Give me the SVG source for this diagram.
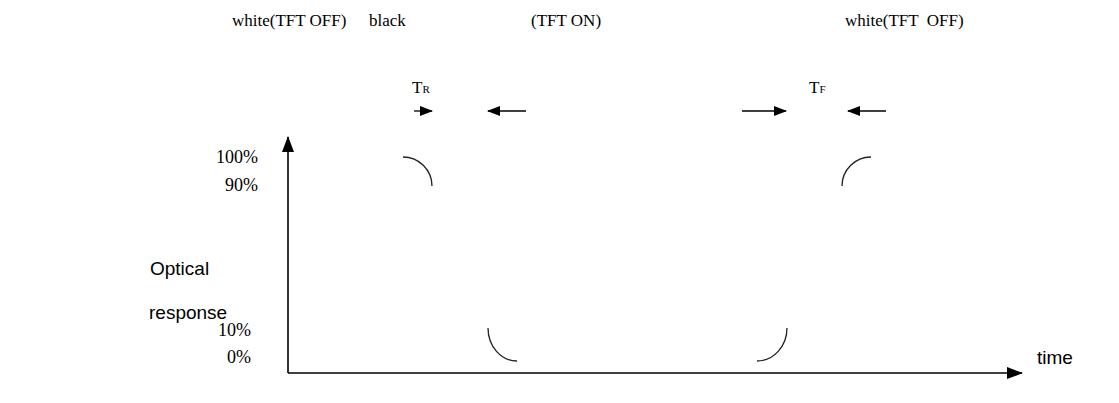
<svg xmlns="http://www.w3.org/2000/svg" width="1119" height="403" viewBox="0 0 1119 403">
  <style>
    .serif { font-family: "Liberation Serif", "Times New Roman", serif; font-size: 17px; fill: #000; }
    .pct { font-family: "Liberation Serif", "Times New Roman", serif; font-size: 18px; fill: #000; text-anchor: end; }
    .sans { font-family: "Liberation Sans", Arial, sans-serif; font-size: 19px; fill: #000; }
    .axis { stroke: #000; stroke-width: 1.6; fill: none; }
    .arr { stroke: #000; stroke-width: 1.3; fill: none; }
    .curve { stroke: #222; stroke-width: 1.3; fill: none; }
  </style>
  <defs>
    <marker id="head" markerWidth="13" markerHeight="10" refX="12" refY="5" orient="auto" markerUnits="userSpaceOnUse">
      <path d="M0,0 L13,5 L0,10 Z" fill="#000"/>
    </marker>
    <marker id="axisHead" markerWidth="16" markerHeight="12" refX="15" refY="6" orient="auto" markerUnits="userSpaceOnUse">
      <path d="M0,0 L16,6 L0,12 Z" fill="#000"/>
    </marker>
  </defs>

  <!-- state labels along the top -->
  <g id="state-labels">
    <text class="serif" x="232" y="26">white(TFT OFF)</text>
    <text class="serif" x="369" y="26">black</text>
    <text class="serif" x="531" y="26">(TFT ON)</text>
    <text class="serif" x="845" y="26" xml:space="preserve">white(TFT  OFF)</text>
  </g>

  <!-- rise / fall time labels -->
  <g id="rise-time">
    <text class="serif" x="412" y="93">T<tspan font-size="11">R</tspan></text>
  </g>
  <g id="fall-time">
    <text class="serif" x="809" y="93">T<tspan font-size="11">F</tspan></text>
  </g>

  <!-- axis labels -->
  <g id="y-labels">
    <text class="pct" x="258" y="163">100%</text>
    <text class="pct" x="258" y="191">90%</text>
    <text class="pct" x="251" y="336">10%</text>
    <text class="pct" x="251" y="363">0%</text>
  </g>
  <g id="y-title">
    <text class="sans" x="150" y="275">Optical</text>
    <text class="sans" x="149" y="319">response</text>
  </g>
  <g id="x-title">
    <text class="sans" x="1037" y="364">time</text>
  </g>

  <!-- axes and interval arrows -->
  <g id="connectors">
    <line class="axis" x1="288" y1="373" x2="288" y2="137" marker-end="url(#axisHead)"/>
    <line class="axis" x1="288" y1="373" x2="1022" y2="373" marker-end="url(#axisHead)"/>
    <line class="arr" x1="414" y1="111" x2="432" y2="111" marker-end="url(#head)"/>
    <line class="arr" x1="526" y1="111" x2="488" y2="111" marker-end="url(#head)"/>
    <line class="arr" x1="742" y1="111" x2="786" y2="111" marker-end="url(#head)"/>
    <line class="arr" x1="886" y1="111" x2="848" y2="111" marker-end="url(#head)"/>
  </g>

  <!-- response curve segments -->
  <g id="curves">
    <path class="curve" d="M403,157 A29,29 0 0 1 432,186"/>
    <path class="curve" d="M488,328 A29,33 0 0 0 517,361"/>
    <path class="curve" d="M757,361 A30,33 0 0 0 787,328"/>
    <path class="curve" d="M842,186 A29,29 0 0 1 871,157"/>
  </g>
</svg>
